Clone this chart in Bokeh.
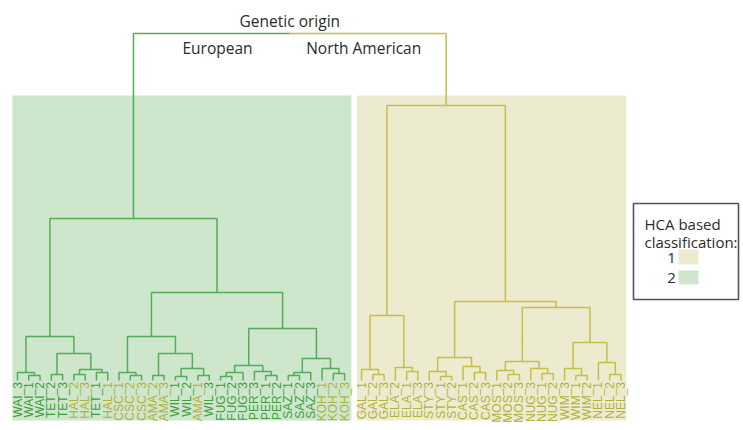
import math
from bokeh.plotting import figure
from bokeh.models import Range1d, ColumnDataSource
from bokeh.core.properties import value
from bokeh.embed import file_html
from bokeh.resources import INLINE

# ---------------- data ----------------
green_leaves = ["WAI_3", "WAI_1", "WAI_2", "TET_2", "TET_3", "HAL_2", "HAL_3", "TET_1", "HAL_1",
                "CSC_1", "CSC_2", "CSC_3", "AMA_2", "AMA_3", "WIL_1", "WIL_2", "AMA_1", "WIL_3",
                "FUG_1", "FUG_2", "FUG_3", "PER_3", "PER_1", "PER_2", "SAZ_1", "SAZ_2", "SAZ_3",
                "KOH_1", "KOH_2", "KOH_3"]
yellow_leaves = ["GAL_1", "GAL_2", "GAL_3", "ELA_2", "ELA_1", "ELA_3", "STY_3", "STY_1", "STY_2",
                 "CAS_1", "CAS_2", "CAS_3", "MOS_1", "MOS_2", "MOS_3", "NUG_3", "NUG_1", "NUG_2",
                 "WIM_3", "WIM_1", "WIM_2", "NEL_1", "NEL_2", "NEL_3"]
# genetic origin per cultivar prefix (label colour)
european_origin = ["WAI", "TET", "WIL", "FUG", "PER", "SAZ"]

# merges: (node, left, right, height)
green_merges = [
    ("w12", "WAI_1", "WAI_2", 0.5), ("WAI", "WAI_3", "w12", 0.8),
    ("tet23", "TET_2", "TET_3", 0.6), ("hal23", "HAL_2", "HAL_3", 0.6),
    ("th1", "TET_1", "HAL_1", 0.8), ("halg", "hal23", "th1", 1.1),
    ("th", "tet23", "halg", 2.7), ("A", "WAI", "th", 4.4),
    ("csc23", "CSC_2", "CSC_3", 0.5), ("CSC", "CSC_1", "csc23", 0.8),
    ("ama23", "AMA_2", "AMA_3", 0.5), ("wil12", "WIL_1", "WIL_2", 0.4),
    ("aw", "AMA_1", "WIL_3", 0.5), ("wilg", "wil12", "aw", 1.2),
    ("awg", "ama23", "wilg", 2.7), ("C", "CSC", "awg", 4.4),
    ("fug12", "FUG_1", "FUG_2", 0.4), ("FUG", "fug12", "FUG_3", 0.8),
    ("per12", "PER_1", "PER_2", 0.5), ("PER", "PER_3", "per12", 0.9),
    ("fp", "FUG", "PER", 1.5),
    ("saz12", "SAZ_1", "SAZ_2", 0.5), ("SAZ", "saz12", "SAZ_3", 0.8),
    ("koh23", "KOH_2", "KOH_3", 0.7), ("KOH", "KOH_1", "koh23", 1.2),
    ("sk", "SAZ", "KOH", 2.2), ("D", "fp", "sk", 5.2),
    ("B", "C", "D", 8.8), ("EU", "A", "B", 16.2),
]
yellow_merges = [
    ("gal23", "GAL_2", "GAL_3", 0.6), ("GAL", "GAL_1", "gal23", 1.1),
    ("ela13", "ELA_1", "ELA_3", 0.9), ("ELA", "ELA_2", "ela13", 1.3),
    ("E", "GAL", "ELA", 6.5),
    ("sty12", "STY_1", "STY_2", 0.4), ("STY", "STY_3", "sty12", 0.9),
    ("cas23", "CAS_2", "CAS_3", 0.8), ("CAS", "CAS_1", "cas23", 1.4),
    ("sc", "STY", "CAS", 2.3),
    ("mos23", "MOS_2", "MOS_3", 0.6), ("MOS", "MOS_1", "mos23", 1.0),
    ("nug12", "NUG_1", "NUG_2", 0.7), ("NUG", "NUG_3", "nug12", 1.2),
    ("mn", "MOS", "NUG", 1.9),
    ("wim12", "WIM_1", "WIM_2", 0.5), ("WIM", "WIM_3", "wim12", 1.2),
    ("nel23", "NEL_2", "NEL_3", 0.6), ("NEL", "NEL_1", "nel23", 1.8),
    ("wn", "WIM", "NEL", 3.8), ("H", "mn", "wn", 7.3),
    ("F", "sc", "H", 7.9), ("NA", "E", "F", 27.5),
]
top_merge = ("ALL", "EU", "NA", 34.7)

group_title = "Genetic origin"
group_names = ["European", "North American"]
legend_title = ["HCA based", "classification:"]
legend_classes = ["1", "2"]

# ---------------- style ----------------
GREEN_BG = "#cde6cc"
YELLOW_BG = "#edebcf"
GREEN_LINE = "#55ad58"
YELLOW_LINE = "#c6be46"
LABEL_GREEN = "#3e9e40"
LABEL_OLIVE = "#b3b137"
TEXT = "#2b2b2b"
FONT = "Open Sans"

# ---------------- layout ----------------
W, H = 743, 430
X0, X1 = -17 / 11.28, (743 - 17) / 11.28
Y0, Y1 = -5.0, 38.0

def sx(px):  # page pixel -> data x
    return X0 + px / W * (X1 - X0)

def sy(py):  # page pixel -> data y
    return Y1 - py / H * (Y1 - Y0)

p = figure(width=W, height=H, output_backend="svg", toolbar_location=None,
           x_range=Range1d(X0, X1), y_range=Range1d(Y0, Y1),
           x_axis_type=None, y_axis_type=None, min_border=0)
p.grid.visible = False
p.outline_line_color = None
p.background_fill_color = "white"
p.border_fill_color = "white"

# leaf positions
pos, hgt = {}, {}
for i, n in enumerate(green_leaves):
    pos[n] = float(i); hgt[n] = 0.0
gap = 0.5
for j, n in enumerate(yellow_leaves):
    pos[n] = len(green_leaves) + gap + j; hgt[n] = 0.0

def build(merges):
    xs, ys = [], []
    for node, l, r, h in merges:
        xl, xr = pos[l], pos[r]
        xs.append([xl, xl, xr, xr]); ys.append([hgt[l], h, h, hgt[r]])
        pos[node] = (xl + xr) / 2; hgt[node] = h
    return xs, ys

gxs, gys = build(green_merges)
yxs, yys = build(yellow_merges)

# background cluster boxes
p.quad(left=[pos[green_leaves[0]] - 0.45, pos[yellow_leaves[0]] - 0.4],
       right=[pos[green_leaves[-1]] + 0.6, pos[yellow_leaves[-1]] + 0.48],
       bottom=[sy(420)] * 2, top=[sy(95)] * 2,
       fill_color=[GREEN_BG, YELLOW_BG], line_color=None)

p.multi_line(xs=gxs, ys=gys, line_color=GREEN_LINE, line_width=1.5)
p.multi_line(xs=yxs, ys=yys, line_color=YELLOW_LINE, line_width=1.5)

# top merge, split in colour at midpoint
_, l, r, htop = top_merge
xm = (pos[l] + pos[r]) / 2
p.line(x=[pos[l], pos[l], xm], y=[hgt[l], htop, htop], line_color=GREEN_LINE, line_width=1.5)
p.line(x=[xm, pos[r], pos[r]], y=[htop, htop, hgt[r]], line_color=YELLOW_LINE, line_width=1.5)

# leaf labels
leaves = green_leaves + yellow_leaves
src = ColumnDataSource(dict(
    x=[pos[n] for n in leaves], y=[-0.15] * len(leaves), t=leaves,
    c=[LABEL_GREEN if n.split("_")[0] in european_origin else LABEL_OLIVE for n in leaves]))
p.text(x="x", y="y", text="t", source=src, angle=math.pi / 2, text_align="right",
       text_baseline="middle", text_color="c", text_font=value("Liberation Sans"),
       text_font_size="12px")

# group titles
p.text(x=[xm], y=[sy(20)], text=[group_title], text_align="center", text_baseline="middle",
       text_color=TEXT, text_font=value(FONT), text_font_size="15.5px")
p.text(x=[xm - 3.3], y=[sy(47)], text=[group_names[0]], text_align="right",
       text_baseline="middle", text_color=TEXT, text_font=value(FONT), text_font_size="15.5px")
p.text(x=[xm + 1.45], y=[sy(47)], text=[group_names[1]], text_align="left",
       text_baseline="middle", text_color=TEXT, text_font=value(FONT), text_font_size="15.5px")

# legend box
p.quad(left=[sx(633)], right=[sx(738)], top=[sy(203)], bottom=[sy(299)],
       fill_color="white", line_color="#555555", line_width=1.6)
p.text(x=[sx(644)] * 2, y=[sy(223), sy(241)], text=legend_title, text_align="left",
       text_baseline="middle", text_color=TEXT, text_font=value(FONT), text_font_size="15px")
p.text(x=[sx(671)] * 2, y=[sy(257), sy(277)], text=legend_classes, text_align="center",
       text_baseline="middle", text_color=TEXT, text_font=value(FONT), text_font_size="15px")
p.quad(left=[sx(678)] * 2, right=[sx(698)] * 2, top=[sy(249), sy(270)], bottom=[sy(264), sy(284)],
       fill_color=[YELLOW_BG, GREEN_BG], line_color=None)

open("out.html", "w").write(file_html(p, INLINE))
